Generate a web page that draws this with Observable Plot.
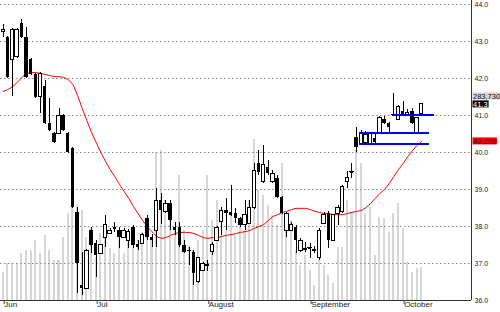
<!DOCTYPE html>
<html><head><meta charset="utf-8">
<script src="https://cdn.jsdelivr.net/npm/d3@7"></script>
<script src="https://cdn.jsdelivr.net/npm/@observablehq/plot@0.6"></script>
<style>
html,body{margin:0;padding:0;background:#fff;}
#chart{width:500px;height:312px;overflow:hidden;font-family:"Liberation Sans",Arial,sans-serif;}
</style></head><body><div id="chart"></div>
<script>
// Daily OHLC (price), volume (thousands) and moving average
const opens = [
43.27,43.11,42.49,42.59,43.49,43.11,42.51,42.11,41.49,41.78,
40.78,40.51,40.51,41.00,40.51,40.11,38.38,36.41,36.32,37.89,
37.54,37.27,37.70,37.81,37.97,37.89,37.70,37.62,37.97,37.51,
37.54,38.22,37.70,37.89,38.70,38.38,38.62,37.97,37.97,37.49,
37.35,37.30,36.49,36.81,36.95,37.30,37.62,38.11,38.43,38.38,
38.35,38.22,38.03,38.08,38.49,39.70,39.19,39.59,39.19,39.30,
38.78,37.89,37.89,37.97,37.35,37.41,37.41,37.35,37.14,38.08,
38.35,37.62,38.35,38.38,39.19,39.46,40.41,40.24,40.27,40.24,
40.38,40.51,40.89,40.78,41.03,40.89,41.11,41.00,41.11,40.51,
41.05];
const closes = [
43.30,42.03,43.30,43.32,43.11,42.03,42.11,41.49,42.11,40.78,
40.59,40.27,41.00,40.59,40.00,38.51,37.00,36.32,37.35,37.49,
37.22,37.49,38.03,37.89,37.92,37.70,37.89,37.84,37.49,37.43,
37.76,37.70,37.62,38.70,38.43,38.62,38.16,37.89,37.49,37.30,
37.32,36.73,37.14,37.00,36.97,37.49,37.97,38.43,38.35,38.30,
38.22,38.03,38.30,38.49,39.51,39.46,39.65,39.43,39.43,38.78,
38.35,38.35,38.03,37.62,37.62,37.35,37.43,37.37,37.89,38.30,
37.62,38.30,38.49,39.08,39.30,39.48,40.14,40.49,40.46,40.51,
40.27,40.92,40.78,40.68,41.00,41.22,41.03,41.08,40.78,40.92,
41.30];
const highs = [
43.46,43.14,43.35,43.35,43.59,43.38,42.54,42.14,42.16,41.95,
41.46,40.54,41.19,41.03,40.54,40.14,38.51,37.30,37.38,37.97,
37.62,37.51,38.30,37.95,38.11,37.97,37.95,37.92,38.03,37.62,
37.81,38.30,37.78,39.03,38.89,38.70,38.70,38.11,38.11,37.62,
37.43,37.35,37.16,37.03,37.08,37.57,38.00,38.51,38.76,39.11,
38.49,38.24,38.70,38.70,39.70,40.05,40.19,39.78,39.51,39.38,
38.81,38.38,38.11,38.03,37.68,37.57,37.54,37.46,37.95,38.38,
38.41,38.32,38.57,39.11,39.49,39.70,40.68,40.59,40.57,40.54,
40.51,40.97,40.97,40.81,41.59,41.27,41.38,41.16,41.19,40.95,
41.32];
const lows = [
43.11,42.00,41.51,42.54,43.08,42.00,42.08,41.46,41.05,40.76,
40.57,40.24,40.49,40.57,39.97,38.49,36.19,36.14,36.30,37.27,
36.62,37.24,37.43,37.78,37.84,37.41,37.68,37.41,37.41,37.35,
37.51,37.62,37.43,37.43,38.05,38.35,37.89,37.76,37.43,37.27,
36.95,36.41,36.46,36.78,36.78,37.22,37.59,37.76,37.89,38.27,
38.08,37.97,37.89,38.05,38.46,39.38,39.16,39.38,39.16,38.76,
38.32,37.70,37.86,37.27,37.30,37.30,37.14,37.27,37.08,38.05,
37.41,37.59,38.03,38.35,39.03,39.30,40.00,40.22,40.24,40.22,
40.24,40.49,40.76,40.51,40.97,40.86,41.00,40.97,40.76,40.49,
41.03];
const volumes = [
241,318,318,318,404,430,430,516,404,559,
430,344,344,542,748,800,817,774,542,628,
370,576,542,447,404,576,404,516,456,516,
585,602,516,1273,1290,860,731,602,1075,602,
473,430,516,602,1075,688,860,559,602,731,
559,645,602,860,1385,946,903,817,731,645,
1178,602,688,430,301,387,258,129,344,301,
215,146,456,456,860,748,1290,1178,748,800,
387,714,705,585,748,834,619,327,241,275,
283.73];
const movingAvg = [
41.65,41.70,41.78,41.89,42.03,42.14,42.16,42.16,42.14,42.11,
42.08,42.05,42.05,42.03,41.97,41.84,41.54,41.19,40.86,40.54,
40.27,40.00,39.76,39.54,39.35,39.14,38.95,38.76,38.54,38.35,
38.16,38.00,37.86,37.73,37.68,37.70,37.76,37.81,37.84,37.84,
37.84,37.81,37.76,37.70,37.68,37.70,37.70,37.73,37.76,37.78,
37.81,37.84,37.86,37.89,37.95,38.00,38.05,38.16,38.27,38.32,
38.38,38.41,38.46,38.49,38.49,38.49,38.46,38.41,38.38,38.35,
38.35,38.32,38.32,38.32,38.35,38.38,38.41,38.43,38.51,38.62,
38.76,38.89,39.00,39.16,39.35,39.54,39.70,39.89,40.05,40.19,
40.30];

const monthTickIndex = [0, 20, 44, 66, 86];
const monthLabels = ["Jun", "Jul", "August", "September", "October"];
const yTicks = [36, 37, 38, 39, 40, 41, 42, 43, 44];
const levelPrices = [40.235, 40.52, 41.01];
const levelStart = [76.6, 76.6, 83.7];
const levelEnd = [91.7, 91.7, 92.8];
const volumeLabel = "283,730";
const closeLabel = "41.3";
const maLabel = "40.295";

const xDomain = [-0.58, 100.7];
const volToPrice = 0.003144; // price units per thousand shares (volume overlay)

const candles = opens.map((o, i) => ({i, o, c: closes[i], h: highs[i], l: lows[i], v: volumes[i], ma: movingAvg[i]}));
const levels = levelPrices.map((p, k) => ({p, s: levelStart[k], e: levelEnd[k]}));
const up = candles.filter(d => d.c >= d.o);
const down = candles.filter(d => d.c < d.o);
const doji = candles.filter(d => Math.abs(d.c - d.o) < 0.04);

const chart = Plot.plot({
  width: 500, height: 312,
  marginLeft: 0, marginRight: 29, marginTop: 4, marginBottom: 12,
  style: {fontFamily: '"Liberation Sans", Arial, sans-serif', background: "#fff"},
  x: {type: "linear", domain: xDomain},
  y: {domain: [36, 44]},
  marks: [
    Plot.rect(candles, {x1: d => d.i - 0.22, x2: d => d.i + 0.22, y1: 36, y2: d => 36 + d.v * volToPrice, fill: "#d6d6d6", shapeRendering: "crispEdges"}),
    Plot.ruleY(yTicks.filter(t => t > 36), {stroke: "#8a8a8a", strokeDasharray: "1.5,2.5"}),
    Plot.line(candles, {x: "i", y: "ma", stroke: "#ff0000", strokeWidth: 1}),
    Plot.ruleX(candles, {x: "i", y1: "l", y2: "h", stroke: "#000", shapeRendering: "crispEdges"}),
    Plot.rect(down, {x1: d => d.i - 0.36, x2: d => d.i + 0.36, y1: "o", y2: "c", fill: "#000", shapeRendering: "crispEdges"}),
    Plot.rect(up, {x1: d => d.i - 0.36, x2: d => d.i + 0.36, y1: "o", y2: "c", fill: "#fff", stroke: "#000", shapeRendering: "crispEdges"}),
    Plot.ruleY(doji, {y: "o", x1: d => d.i - 0.4, x2: d => d.i + 0.4, stroke: "#000", shapeRendering: "crispEdges"}),
    Plot.ruleY(levels, {y: "p", x1: "s", x2: "e", stroke: "#0000ff", strokeWidth: 2, shapeRendering: "crispEdges"}),
    Plot.ruleY([36], {stroke: "#333", shapeRendering: "crispEdges"}),
    Plot.ruleX([xDomain[1]], {stroke: "#333", insetTop: -4, shapeRendering: "crispEdges"}),
    Plot.axisY({anchor: "right", ticks: yTicks, tickFormat: d3.format(".1f"), tickSize: 0, tickPadding: 3, fontSize: 7, fill: "#222"}),
    Plot.axisX({ticks: monthTickIndex, tickFormat: i => monthLabels[monthTickIndex.indexOf(i)], tickSize: 4, tickPadding: -3, textAnchor: "start", dx: 1, fontSize: 8, fill: "#222", stroke: "#444"})
  ]
});
document.getElementById("chart").appendChild(chart);

// Right-edge value tags positioned through the y scale
const ys = chart.scale("y");
const svg = d3.select(chart);
function tag(py, text, bg, fg) {
  const g = svg.append("g").attr("transform", `translate(472.5,${py})`).attr("text-anchor", "start");
  const r = g.append("rect").attr("x", 0).attr("y", -3.5).attr("height", 7).attr("fill", bg);
  const t = g.append("text").attr("x", 0.5).attr("y", 0).attr("dy", "0.36em").attr("text-anchor", "start")
    .attr("font-size", 7.5).attr("fill", fg).attr("font-family", '"Liberation Sans", Arial, sans-serif').text(text);
  r.attr("width", t.node().getComputedTextLength() + 1.5);
}
const closeY = ys.apply(closes[closes.length - 1]);
tag(closeY - 8, volumeLabel, "#d4d4d4", "#111");
tag(closeY, closeLabel, "#000", "#fff");
tag(ys.apply(movingAvg[movingAvg.length - 1]), maLabel, "#ff0000", "#222");
</script></body></html>
